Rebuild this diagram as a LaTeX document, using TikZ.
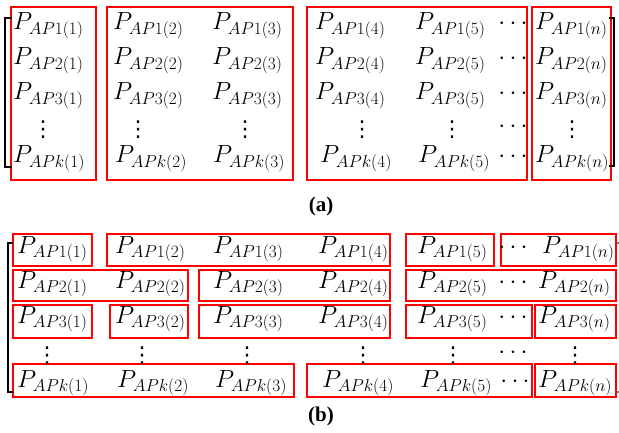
\documentclass[tikz,border=0pt]{standalone}
\usepackage{fontspec}
\newfontfamily\labelfont{Liberation Serif}
\newfontfamily\symfont{DejaVu Sans}
\tikzset{
  entry/.style={anchor=base west, inner sep=0pt, font=\fontsize{23}{27}\selectfont},
  vd/.style={anchor=base, inner sep=0pt, font=\symfont\fontsize{22}{26}\selectfont},
  hd/.style={anchor=base, inner sep=0pt, font=\fontsize{23}{27}\selectfont},
  redbox/.style={draw=red, line width=2.7pt},
  brk/.style={draw=black, line width=1.4pt},
  caption/.style={inner sep=0pt, font=\labelfont\bfseries\fontsize{21}{25}\selectfont}
}
\begin{document}
\begin{tikzpicture}[x=1pt,y=-1pt]
\useasboundingbox (0,0) rectangle (619,433);

% ---------------- matrix (a) ----------------
% column-wise groups
\draw[redbox] (11,7) rectangle (96,180);
\draw[redbox] (107,7) rectangle (293,180);
\draw[redbox] (307,7) rectangle (527,180);
\draw[redbox] (532,7) rectangle (611,180);
% brackets
\draw[brk] (12,18) -- (5,18) -- (5,167) -- (12,167);
\draw[brk] (609,18) -- (614,18) -- (614,166) -- (609,166);

% rows 1..3
\foreach \r/\y in {1/30,2/65,3/100}{
  \node[entry] (a\r c1) at (13,\y)  {$P_{AP\r(1)}$};
  \node[entry] (a\r c2) at (113,\y) {$P_{AP\r(2)}$};
  \node[entry] (a\r c3) at (212,\y) {$P_{AP\r(3)}$};
  \node[entry] (a\r c4) at (315,\y) {$P_{AP\r(4)}$};
  \node[entry] (a\r c5) at (415,\y) {$P_{AP\r(5)}$};
  \node[hd]    (a\r h)  at (513,\y) {$\cdots$};
  \node[entry] (a\r cn) at (535,\y) {$P_{AP\r(n)}$};
}
% row of dots
\node[vd] (avd1) at (43,137)  {⋮};
\node[vd] (avd2) at (138,137) {⋮};
\node[vd] (avd3) at (245,137) {⋮};
\node[vd] (avd4) at (362,137) {⋮};
\node[vd] (avd5) at (452,137) {⋮};
\node[hd] (avdh) at (513,133) {$\cdots$};
\node[vd] (avdn) at (572,137) {⋮};
% row k
\node[entry] (akc1) at (13,163)  {$P_{APk(1)}$};
\node[entry] (akc2) at (115,163) {$P_{APk(2)}$};
\node[entry] (akc3) at (213,163) {$P_{APk(3)}$};
\node[entry] (akc4) at (320,163) {$P_{APk(4)}$};
\node[entry] (akc5) at (418,163) {$P_{APk(5)}$};
\node[hd]    (akh)  at (513,163) {$\cdots$};
\node[entry] (akcn) at (535,163) {$P_{APk(n)}$};

\node[caption] (capa) at (321,206) {(a)};

% ---------------- matrix (b) ----------------
% row 1 groups
\draw[redbox] (13,234) rectangle (92,266);
\draw[redbox] (107,234) rectangle (390,266);
\draw[redbox] (406,234) rectangle (494,266);
\draw[redbox] (501,234) rectangle (616,266);
% row 2 groups
\draw[redbox] (13,270) rectangle (188,301);
\draw[redbox] (199,270) rectangle (390,301);
\draw[redbox] (406,270) rectangle (616,301);
% row 3 groups
\draw[redbox] (13,305) rectangle (92,338);
\draw[redbox] (110,305) rectangle (188,338);
\draw[redbox] (199,305) rectangle (390,338);
\draw[redbox] (406,305) rectangle (532,338);
\draw[redbox] (535,305) rectangle (616,338);
% row k groups
\draw[redbox] (13,364) rectangle (294,397);
\draw[redbox] (307,364) rectangle (532,397);
\draw[redbox] (535,364) rectangle (616,397);
% brackets
\draw[brk] (13,243) -- (8,243) -- (8,392) -- (13,392);
\draw[brk, draw=gray] (617,243) -- (620,243) -- (620,392) -- (617,392);

\foreach \r/\y/\xn in {1/253/542,2/288/538,3/323/538}{
  \node[entry] (b\r c1) at (17,\y)  {$P_{AP\r(1)}$};
  \node[entry] (b\r c2) at (115,\y) {$P_{AP\r(2)}$};
  \node[entry] (b\r c3) at (213,\y) {$P_{AP\r(3)}$};
  \node[entry] (b\r c4) at (318,\y) {$P_{AP\r(4)}$};
  \node[entry] (b\r c5) at (417,\y) {$P_{AP\r(5)}$};
  \node[hd]    (b\r h)  at (513,\y) {$\cdots$};
  \node[entry] (b\r cn) at (\xn,\y) {$P_{AP\r(n)}$};
}
% row of dots
\node[vd] (bvd1) at (47,362)  {⋮};
\node[vd] (bvd2) at (142,362) {⋮};
\node[vd] (bvd3) at (247,362) {⋮};
\node[vd] (bvd4) at (363,362) {⋮};
\node[vd] (bvd5) at (453,362) {⋮};
\node[hd] (bvdh) at (513,358) {$\cdots$};
\node[vd] (bvdn) at (575,362) {⋮};
% row k
\node[entry] (bkc1) at (17,387)  {$P_{APk(1)}$};
\node[entry] (bkc2) at (117,387) {$P_{APk(2)}$};
\node[entry] (bkc3) at (215,387) {$P_{APk(3)}$};
\node[entry] (bkc4) at (322,387) {$P_{APk(4)}$};
\node[entry] (bkc5) at (420,387) {$P_{APk(5)}$};
\node[hd]    (bkh)  at (515,387) {$\cdots$};
\node[entry] (bkcn) at (538,387) {$P_{APk(n)}$};

\node[caption] (capb) at (321,416) {(b)};
\end{tikzpicture}
\end{document}
